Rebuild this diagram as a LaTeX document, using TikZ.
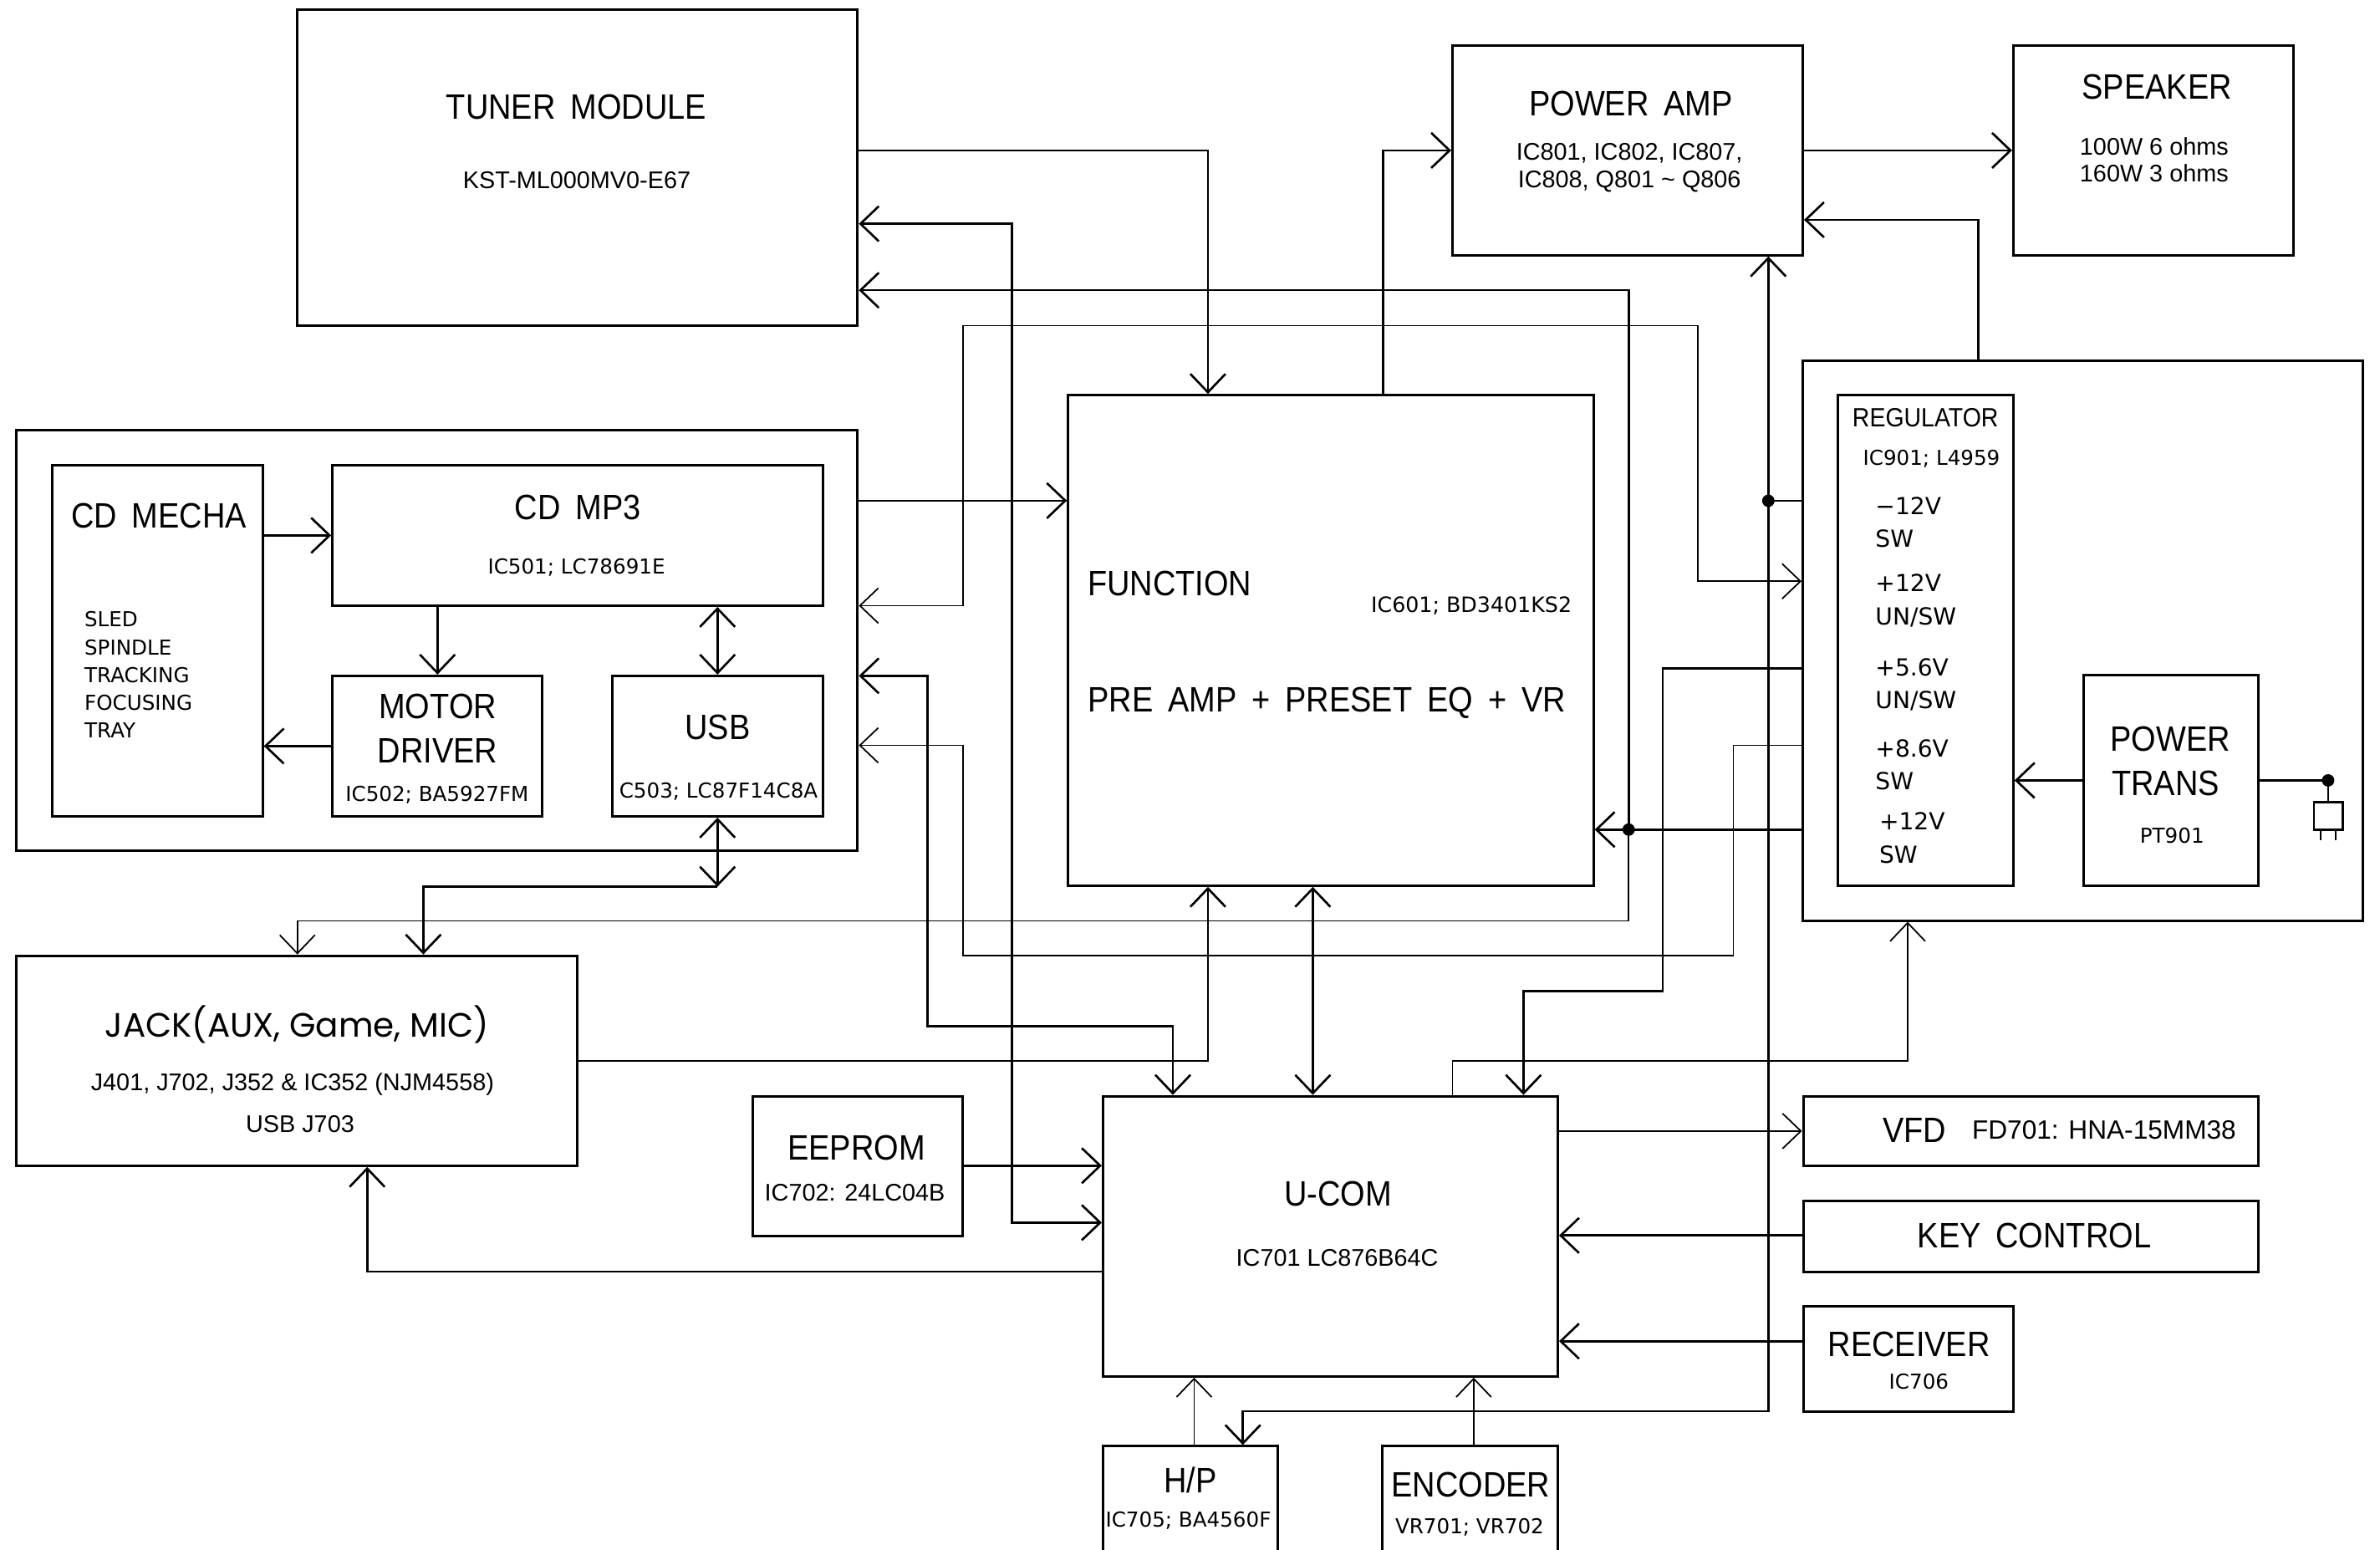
\documentclass[tikz,border=0pt]{standalone}
\usepackage{fontspec}
\setmainfont{Liberation Sans}
\newfontfamily\cadfont[FakeStretch=0.9, WordSpace=1.7]{Liberation Sans}
\newfontfamily\cadsmall{DejaVu Sans}
\newfontfamily\gothic{Poppins}
\usetikzlibrary{arrows.meta}
\usetikzlibrary{fit}
\usetikzlibrary{positioning}

\tikzset{
  box/.style={draw, line width=0.85pt, inner sep=0pt},
  wire/.style={line width=0.75pt},
  thinwire/.style={line width=0.5pt},
  title/.style={font=\cadfont\fontsize{12}{14}\selectfont, inner sep=0pt, anchor=base, yshift=-4.3pt},
  regtitle/.style={font=\cadfont\fontsize{9}{10}\selectfont, inner sep=0pt, anchor=base, yshift=-3.2pt},
  jacktitle/.style={font=\gothic\fontsize{11.5}{13}\selectfont, inner sep=0pt, anchor=base, yshift=-4.1pt},
  sub/.style={font=\fontsize{8.2}{10}\selectfont, inner sep=0pt, anchor=base, yshift=-2.95pt},
  small/.style={font=\cadsmall\fontsize{7}{9}\selectfont, inner sep=0pt, anchor=base, yshift=-2.55pt},
  volt/.style={font=\cadsmall\fontsize{8}{10}\selectfont, inner sep=0pt, anchor=base west, yshift=-2.9pt},
  >={Straight Barb[length=2.2mm, width=4.2mm]},
}

\begin{document}
\begin{tikzpicture}[x=0.018157cm, y=-0.018157cm]
    \useasboundingbox (0,0) rectangle (1568,1020.55);

    % blocks
    \node[box, fit={(196,6.5) (565,214.3)}] (tuner) {};
    \node[box, fit={(956.9,29.8) (1187.7,168.1)}] (pamp) {};
    \node[box, fit={(1326.4,29.8) (1511,168.1)}] (spk) {};
    \node[box, fit={(11,283.5) (565,560.6)}] (cdbox) {};
    \node[box, fit={(34.3,306.5) (173,537.8)}] (mecha) {};
    \node[box, fit={(219,306.5) (542,399)}] (mp3) {};
    \node[box, fit={(219,445.2) (357.4,537.8)}] (motor) {};
    \node[box, fit={(403.4,445.2) (542,537.8)}] (usb) {};
    \node[box, fit={(703.7,260.3) (1049.8,583.4)}] (func) {};
    \node[box, fit={(1187.7,237.4) (1556.8,606.4)}] (psu) {};
    \node[box, fit={(1211,260.2) (1326.4,583.6)}] (reg) {};
    \node[box, fit={(1372.5,444.8) (1487.8,583.6)}] (trans) {};
    \node[box, fit={(11,629.6) (380.4,767.9)}] (jack) {};
    \node[box, fit={(496.2,722.1) (634.3,814.2)}] (eeprom) {};
    \node[box, fit={(726.7,722.1) (1026.3,906.7)}] (ucom) {};
    \node[box, fit={(1188,722.1) (1488,767.9)}] (vfd) {};
    \node[box, fit={(1188,791.4) (1488,837.7)}] (key) {};
    \node[box, fit={(1188,860.5) (1326.4,929.7)}] (recv) {};
    \node[box, fit={(726.7,952.7) (841.8,1040)}] (hp) {};
    \node[box, fit={(910.9,952.7) (1026.3,1040)}] (enc) {};

    % texts
    \node[title] (tunerT) at (379.7,70.2) {TUNER MODULE};
    \node[sub] (tunerS) at (380,118.7) {KST-ML000MV0-E67};
    \node[title] (pampT) at (1074.5,68) {POWER AMP};
    \node[sub] (pampA) at (1073.5,99.7) {IC801, IC802, IC807,};
    \node[sub] (pampB) at (1073.5,118.2) {IC808, Q801 \textasciitilde{} Q806};
    \node[title] (spkT) at (1421,56.9) {SPEAKER};
    \node[sub] (spkA) at (1419.2,96.2) {100W 6 ohms};
    \node[sub] (spkB) at (1419.2,114.1) {160W 3 ohms};
    \node[title] (mechaT) at (104.7,339.6) {CD MECHA};
    \foreach \txt [count=\i] in {SLED,SPINDLE,TRACKING,FOCUSING,TRAY} {
        \node[small, anchor=base west] (mech\i) at (55.3,{389.7+18.3*\i}) {\txt};
    }
    \node[title] (mp3T) at (380.6,333.7) {CD MP3};
    \node[small] (mp3S) at (379.8,372.9) {IC501; LC78691E};
    \node[title] (motorA) at (288.4,465.2) {MOTOR};
    \node[title] (motorB) at (288.4,494.2) {DRIVER};
    \node[small] (motorS) at (288,523.2) {IC502; BA5927FM};
    \node[title] (usbT) at (472.8,479) {USB};
    \node[small] (usbS) at (473.4,520.7) {C503; LC87F14C8A};
    \node[title, anchor=base west] (funcT) at (716.3,384.2) {FUNCTION};
    \node[small, font=\cadsmall\fontsize{7.2}{9}\selectfont] (funcS) at (969.4,398.5) {IC601; BD3401KS2};
    \node[title, anchor=base west] (funcB) at (716.3,460.4) {PRE AMP + PRESET EQ + VR};
    \node[regtitle] (regT) at (1268.5,274.9) {REGULATOR};
    \node[small] (regS) at (1272.5,301.6) {IC901; L4959};
    \node[volt] (v1) at (1235.2,333.6) {−12V};
    \node[volt] (v1s) at (1235.2,355) {SW};
    \node[volt] (v2) at (1235.2,384.2) {+12V};
    \node[volt] (v2s) at (1235.2,406.1) {UN/SW};
    \node[volt] (v3) at (1235.2,439.8) {+5.6V};
    \node[volt] (v3s) at (1235.2,461) {UN/SW};
    \node[volt] (v4) at (1235.2,492.9) {+8.6V};
    \node[volt] (v4s) at (1235.2,514.4) {SW};
    \node[volt] (v5) at (1237.7,540.9) {+12V};
    \node[volt] (v5s) at (1237.7,563) {SW};
    \node[title] (transA) at (1429.9,486.4) {POWER};
    \node[title] (transB) at (1426.7,515.5) {TRANS};
    \node[small] (transS) at (1431,550.3) {PT901};
    \node[jacktitle] (jackT) at (195.7,675.2) {JACK(AUX, Game, MIC)};
    \node[sub] (jackS) at (192.7,712.9) {J401, J702, J352 \& IC352 (NJM4558)};
    \node[sub] (jackU) at (197.7,740.2) {USB J703};
    \node[title] (eepT) at (564.3,755.8) {EEPROM};
    \node[sub] (eepS) at (563.2,785.6) {IC702: 24LC04B};
    \node[title] (ucomT) at (881.5,785.9) {U-COM};
    \node[sub] (ucomS) at (881,828.5) {IC701 LC876B64C};
    \node[title] (vfdT) at (1261.3,744) {VFD};
    \node[sub, font=\fontsize{9}{11}\selectfont, yshift=-0.3pt] (vfdS) at (1386.2,744) {FD701: HNA-15MM38};
    \node[title] (keyT) at (1340.2,813.4) {KEY CONTROL};
    \node[title] (recvT) at (1257.7,885.2) {RECEIVER};
    \node[small] (recvS) at (1264.2,910.4) {IC706};
    \node[title] (hpT) at (784.2,974.8) {H/P};
    \node[small] (hpS) at (782.9,1001.2) {IC705; BA4560F};
    \node[title] (encT) at (969,977.6) {ENCODER};
    \node[small] (encS) at (968.2,1005.2) {VR701; VR702};

    % junctions
    \coordinate (j12) at (1073,546.5);
    \coordinate (jpa) at (1165,329.9);
    \coordinate (jplug) at (1533.8,514.1);

    % CD section
    \draw[wire,->] (mecha.east |- 0,352.7) -- (mp3.west |- 0,352.7);
    \draw[wire,->] (mp3.south -| motor.north) -- (motor.north);
    \draw[wire,->] (motor.west |- 0,491.5) -- (mecha.east |- 0,491.5);
    \draw[wire,<->] (mp3.south -| usb.north) -- (usb.north);
    \draw[wire,<->] (usb.south) -- (usb.south |- 0,584.1);
    \draw[wire,->] (usb.south |- 0,584.1) -| (jack.north -| 278.9,0);
    \draw[wire,->] (cdbox.east |- 0,329.8) -- (func.west |- 0,329.8);

    % tuner and function
    \draw[wire,->] (tuner.east |- 0,99.1) -| (func.north -| 795.8,0);
    \draw[wire,<->] (tuner.east |- 0,147.4) -| (666.6,805.4) -- (ucom.west |- 0,805.4);
    \draw[wire,<-] (tuner.east |- 0,191.2) -| (j12);
    \draw[thinwire,->] (j12) -- (1073,606.7) -| (jack.north -| 195.9,0);
    \draw[wire,->] (psu.west |- j12) -- (func.east |- j12);
    \fill (j12) circle (4.1);
    \draw[thinwire,<->] (cdbox.east |- 0,399) -| (634.4,214.5) -| (1118.7,382.9) -- (psu.west |- 0,382.9);
    \draw[wire,<->] (cdbox.east |- 0,445.2) -| (611.2,675.9) -| (ucom.north -| 772.7,0);
    \draw[thinwire,<-] (cdbox.east |- 0,491) -| (634.4,629.6) -| (1142,491) -- (psu.west |- 0,491);
    \draw[wire,->] (psu.west |- 0,440.3) -| (1095.5,652.9) -| (ucom.north -| 1003.7,0);

    % amplifier
    \draw[wire,->] (func.north -| 911.2,0) |- (pamp.west |- 0,99.1);
    \draw[wire,->] (pamp.east |- 0,99.1) -- (spk.west |- 0,99.1);
    \draw[wire,->] (psu.north -| 1303.4,0) |- (pamp.east |- 0,144.8);
    \draw[wire] (psu.west |- jpa) -- (jpa);
    \draw[wire,->] (jpa) -- (pamp.south -| jpa);
    \draw[wire,->] (jpa) |- (818.8,929.7) -- (hp.north -| 818.8,0);
    \fill (jpa) circle (4.1);

    % U-COM
    \draw[wire,->] (jack.east |- 0,698.8) -| (func.south -| 795.8,0);
    \draw[wire,<->] (func.south -| 864.9,0) -- (ucom.north -| 864.9,0);
    \draw[thinwire,->] (ucom.north -| 956.9,0) |- (1256.8,698.8) -- (psu.south -| 1256.8,0);
    \draw[wire,->] (eeprom.east |- 0,767.9) -- (ucom.west |- 0,767.9);
    \draw[wire,->] (ucom.west |- 0,837.7) -| (jack.south -| 241.9,0);
    \draw[thinwire,->] (ucom.east |- 0,745.1) -- (vfd.west |- 0,745.1);
    \draw[wire,->] (key.west |- 0,813.9) -- (ucom.east |- 0,813.9);
    \draw[wire,->] (recv.west |- 0,883.5) -- (ucom.east |- 0,883.5);
    \draw[thinwire,->] (hp.north -| 786.7,0) -- (ucom.south -| 786.7,0);
    \draw[thinwire,->] (enc.north -| 970.9,0) -- (ucom.south -| 970.9,0);

    % power supply
    \draw[wire,->] (trans.west |- jplug) -- (reg.east |- jplug);
    \draw[wire] (trans.east |- jplug) -- (jplug) -- (1533.8,528.3);
    \fill (jplug) circle (4.1);
    \draw[wire] (1524.4,528.3) rectangle (1543.3,546.5);
    \draw[thinwire] (1529,546.5) -- (1529,553.5) (1538.6,546.5) -- (1538.6,553.5);
\end{tikzpicture}
\end{document}
